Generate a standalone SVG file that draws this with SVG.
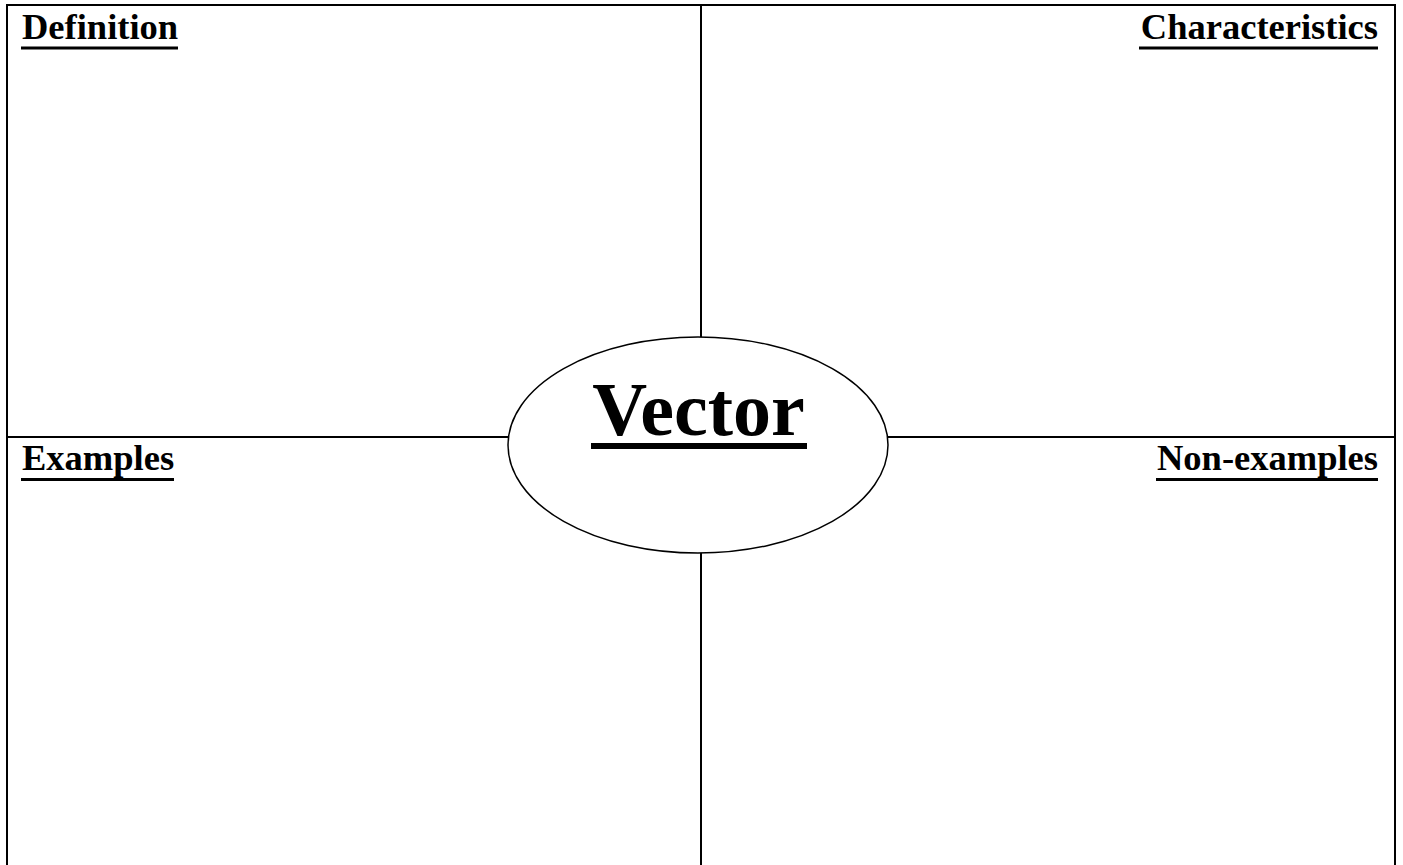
<svg xmlns="http://www.w3.org/2000/svg" width="1403" height="865" viewBox="0 0 1403 865">
<style>
.ln{stroke:#000;stroke-width:2;fill:none}
.lbl{font-family:"Liberation Serif","Times New Roman",serif;font-weight:bold;font-size:36.5px;fill:#000}
.title{font-family:"Liberation Serif","Times New Roman",serif;font-weight:bold;font-size:76px;fill:#000}
.ul{fill:#000}
</style>
<rect width="1403" height="865" fill="#fff"/>
<g id="connectors">
<path class="ln" d="M7,865 V5 H1395 V865"/>
<line class="ln" x1="7" y1="437" x2="510" y2="437"/>
<line class="ln" x1="886" y1="437" x2="1395" y2="437"/>
<line class="ln" x1="701" y1="5" x2="701" y2="338"/>
<line class="ln" x1="701" y1="552" x2="701" y2="865"/>
</g>
<g id="definition"><text class="lbl" x="22" y="39">Definition</text><rect class="ul" x="21" y="46.5" width="157" height="3"/></g>
<g id="characteristics"><text class="lbl" x="1378" y="39" text-anchor="end">Characteristics</text><rect class="ul" x="1139" y="46.5" width="239" height="3"/></g>
<g id="examples"><text class="lbl" x="22" y="470">Examples</text><rect class="ul" x="21" y="478" width="153" height="3"/></g>
<g id="non-examples"><text class="lbl" x="1378" y="470" text-anchor="end">Non-examples</text><rect class="ul" x="1156" y="478" width="222" height="3"/></g>
<g id="vector">
<ellipse cx="698" cy="445" rx="190" ry="108" fill="#fff" stroke="#000" stroke-width="1.5"/>
<text class="title" x="698.5" y="435" text-anchor="middle">Vector</text>
<rect class="ul" x="591" y="443" width="216" height="6"/>
</g>
</svg>
